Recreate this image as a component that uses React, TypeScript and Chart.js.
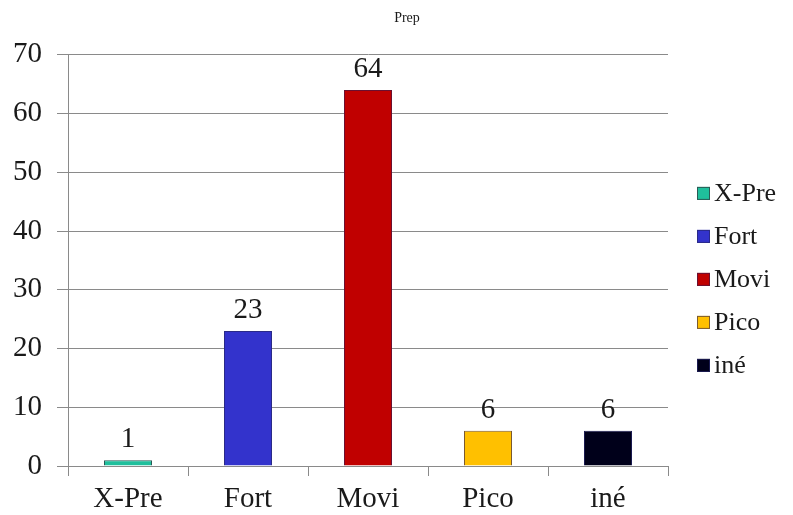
import React, { useEffect, useRef } from "react";
import { Chart, registerables } from "chart.js";

Chart.register(...registerables);

const categories = ["X-Pre", "Fort", "Movi", "Pico", "iné"];
const counts = [1, 23, 64, 6, 6];
const fillColors = ["#1fbf9c", "#3333cc", "#c00000", "#ffc000", "#00001a"];
const edgeColors = ["#2a5a55", "#2a2a88", "#6a1030", "#7a5a30", "#1a1a50"];
const yTicks = [0, 10, 20, 30, 40, 50, 60, 70];

const SERIF = "'Liberation Serif', 'Times New Roman', serif";
const INK = "#1a1a1a";
const GRID = "#8a8a8a";

// Writes each bar's value above it
const valueLabels = {
  id: "valueLabels",
  afterDatasetsDraw(chart: any) {
    const { ctx } = chart;
    const meta = chart.getDatasetMeta(0);
    ctx.save();
    ctx.font = `29px ${SERIF}`;
    ctx.fillStyle = INK;
    ctx.textAlign = "center";
    ctx.textBaseline = "alphabetic";
    meta.data.forEach((bar: any, i: number) => {
      ctx.fillText(String(chart.data.datasets[0].data[i]), bar.x, bar.y - 13);
    });
    ctx.restore();
  },
};

// Category key to the right of the plot: a small square and the name
const sideKey = {
  id: "sideKey",
  afterDraw(chart: any) {
    const { ctx, chartArea } = chart;
    const rowGap = 43;
    const midY = (chartArea.top + chartArea.bottom) / 2 + 19;
    const firstY = midY - ((categories.length - 1) * rowGap) / 2;
    const boxX = chartArea.right + 29;
    ctx.save();
    ctx.font = `26px ${SERIF}`;
    ctx.textAlign = "left";
    ctx.textBaseline = "middle";
    categories.forEach((name, i) => {
      const y = firstY + i * rowGap;
      ctx.fillStyle = fillColors[i];
      ctx.fillRect(boxX, y - 6.5, 13, 13);
      ctx.strokeStyle = edgeColors[i];
      ctx.lineWidth = 1;
      ctx.strokeRect(boxX + 0.5, y - 6, 12, 12);
      ctx.fillStyle = INK;
      ctx.fillText(name, boxX + 17, y + 1);
    });
    ctx.restore();
  },
};

export default function App() {
  const canvasRef = useRef<HTMLCanvasElement | null>(null);

  useEffect(() => {
    document.body.style.margin = "0";
    const canvas = canvasRef.current;
    if (!canvas) return;
    const chart = new Chart(canvas, {
      type: "bar",
      data: {
        labels: categories,
        datasets: [
          {
            label: "Prep",
            data: counts,
            backgroundColor: fillColors,
            borderColor: edgeColors,
            borderWidth: 1,
            barPercentage: 0.4,
            categoryPercentage: 1,
          },
        ],
      },
      options: {
        animation: false,
        responsive: false,
        maintainAspectRatio: false,
        layout: { padding: { left: 0, right: -21, top: 0, bottom: 0 } },
        plugins: {
          title: {
            display: true,
            text: "Prep",
            color: INK,
            font: { family: SERIF, size: 14, weight: "normal" },
            padding: { top: 10, bottom: 28 },
          },
          tooltip: { enabled: false },
          legend: { display: false },
        },
        scales: {
          x: {
            offset: true,
            afterFit: (scale: any) => {
              scale.height = 49;
            },
            grid: {
              display: true,
              offset: true,
              drawOnChartArea: false,
              drawTicks: true,
              tickLength: 10,
              color: GRID,
            },
            border: { display: true, color: GRID },
            ticks: {
              color: INK,
              font: { family: SERIF, size: 29, lineHeight: 1 },
              padding: 9,
              maxRotation: 0,
            },
          },
          y: {
            min: 0,
            max: 70,
            afterBuildTicks: (axis: any) => {
              axis.ticks = yTicks.map((v) => ({ value: v }));
            },
            afterFit: (scale: any) => {
              scale.width = 68;
            },
            grid: {
              color: GRID,
              tickLength: 11,
              drawTicks: true,
            },
            border: { display: true, color: GRID },
            ticks: {
              color: INK,
              font: { family: SERIF, size: 29 },
              padding: 15,
            },
          },
          // empty band on the right that holds the category key
          keyBand: {
            type: "linear",
            position: "right",
            display: true,
            afterFit: (scale: any) => {
              scale.width = 146;
            },
            grid: { display: false, drawTicks: false },
            border: { display: false },
            ticks: { display: false },
          },
        },
      },
      plugins: [valueLabels, sideKey],
    } as any);
    return () => chart.destroy();
  }, []);

  return (
    <div style={{ width: 793, height: 515, position: "relative" }}>
      <canvas ref={canvasRef} width={793} height={515} style={{ width: 793, height: 515 }} />
    </div>
  );
}
